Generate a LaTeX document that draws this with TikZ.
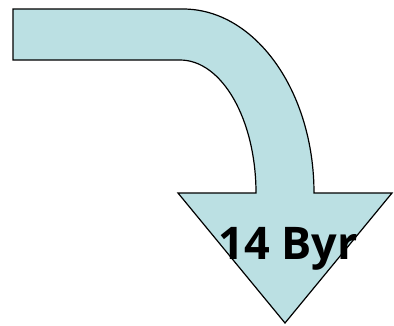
\documentclass[tikz,border=0pt]{standalone}
\usepackage{fontspec}
\setmainfont{Open Sans}
\definecolor{arrowfill}{HTML}{BBE0E3}
\begin{document}
\begin{tikzpicture}[x=1pt,y=-1pt,
  bentarrow/.style={draw=black, line width=1.2pt, fill=arrowfill, line join=miter},
  label/.style={font=\bfseries\fontsize{45}{50}\selectfont, inner sep=0pt}]
\useasboundingbox (0,0) rectangle (394,325);
% bent arrow: straight shaft turning downward into a triangular head
\draw[bentarrow]
  (13,9) -- (183,9)
  .. controls (255.3,9) and (314,91.4) .. (314,193)
  -- (392,193) -- (285,323) -- (178,193) -- (256,193)
  .. controls (256,119.6) and (222,60) .. (180,60)
  -- (13,60) -- cycle;
\node[label, anchor=base] (age) at (288,259) {14 Byr};
\end{tikzpicture}
\end{document}
